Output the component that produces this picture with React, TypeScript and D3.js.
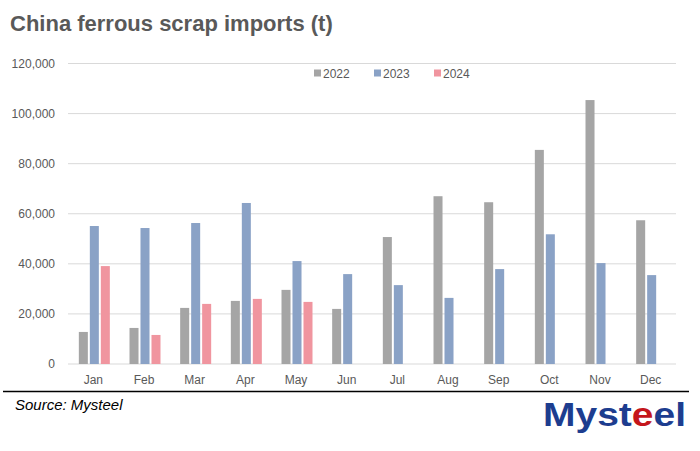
import { useEffect, useRef } from "react";
import * as d3 from "d3";

const months = ["Jan", "Feb", "Mar", "Apr", "May", "Jun", "Jul", "Aug", "Sep", "Oct", "Nov", "Dec"];
const seriesNames = ["2022", "2023", "2024"];
const imports2022 = [12800, 14400, 22400, 25200, 29600, 22000, 50700, 67000, 64600, 85500, 105400, 57400];
const imports2023 = [55100, 54300, 56300, 64300, 41100, 35900, 31500, 26400, 37900, 51800, 40300, 35500];
const imports2024 = [39100, 11600, 24000, 26000, 24800, null, null, null, null, null, null, null];
const yTicks = [0, 20000, 40000, 60000, 80000, 100000, 120000];
const colors = ["#a5a5a5", "#8aa2c6", "#f0959f"];

export default function App() {
  const svgRef = useRef<SVGSVGElement>(null);

  useEffect(() => {
    if (!svgRef.current) return;
    const svg = d3.select(svgRef.current);
    svg.selectAll("*").remove();

    const W = 700;
    const H = 451;
    const margin = { top: 63.5, right: 24, bottom: 87, left: 68 };
    const width = W - margin.left - margin.right;
    const height = H - margin.top - margin.bottom;
    const font = "'Liberation Sans', Arial, sans-serif";
    const textColor = "#595959";

    svg.attr("width", W).attr("height", H).style("font-family", font);
    svg.append("rect").attr("width", W).attr("height", H).attr("fill", "#fff");

    // Title
    svg
      .append("text")
      .attr("x", 10)
      .attr("y", 31)
      .attr("fill", textColor)
      .style("font-size", "22px")
      .style("font-weight", "bold")
      .text("China ferrous scrap imports (t)");

    const g = svg.append("g").attr("transform", `translate(${margin.left},${margin.top})`);

    const x = d3.scaleBand<string>().domain(months).range([0, width]).padding(0);
    const inner = d3.scaleBand<string>().domain(seriesNames).range([0, 31]).paddingInner(0.18);
    const y = d3.scaleLinear().domain([0, 120000]).range([height, 0]);

    // Gridlines
    g.selectAll("line.grid")
      .data(yTicks)
      .enter()
      .append("line")
      .attr("class", "grid")
      .attr("x1", 0)
      .attr("x2", width)
      .attr("y1", (d) => y(d))
      .attr("y2", (d) => y(d))
      .attr("stroke", "#d9d9d9")
      .attr("stroke-width", 1);

    // Y axis labels
    const yAxis = g
      .append("g")
      .call(d3.axisLeft(y).tickValues(yTicks).tickSize(0).tickPadding(13).tickFormat(d3.format(",")));
    yAxis.select(".domain").remove();
    yAxis.selectAll("text").attr("fill", textColor).style("font-size", "12px").style("font-family", font);

    // X axis labels
    const xAxis = g
      .append("g")
      .attr("transform", `translate(0,${height})`)
      .call(d3.axisBottom(x).tickSize(0).tickPadding(11));
    xAxis.select(".domain").remove();
    xAxis.selectAll("text").attr("fill", textColor).style("font-size", "12px").style("font-family", font);

    // Bars
    const all = [imports2022, imports2023, imports2024];
    all.forEach((vals, si) => {
      g.selectAll(`rect.s${si}`)
        .data(vals.map((v, i) => ({ m: months[i], v })).filter((d) => d.v != null))
        .enter()
        .append("rect")
        .attr("class", `s${si}`)
        .attr("x", (d) => (x(d.m) as number) + x.bandwidth() / 2 - 14.5 + (inner(seriesNames[si]) as number))
        .attr("y", (d) => y(d.v as number))
        .attr("width", inner.bandwidth())
        .attr("height", (d) => height - y(d.v as number))
        .attr("fill", colors[si]);
    });

    // Legend
    const legendX = [314, 374, 434];
    seriesNames.forEach((name, i) => {
      svg
        .append("rect")
        .attr("x", legendX[i])
        .attr("y", 69.5)
        .attr("width", 7)
        .attr("height", 7)
        .attr("fill", colors[i]);
      svg
        .append("text")
        .attr("x", legendX[i] + 9)
        .attr("y", 78)
        .attr("fill", textColor)
        .style("font-size", "12px")
        .text(name);
    });

    // Separator
    svg
      .append("line")
      .attr("x1", 3)
      .attr("x2", 689)
      .attr("y1", 391.5)
      .attr("y2", 391.5)
      .attr("stroke", "#000")
      .attr("stroke-width", 1.3);

    svg
      .append("text")
      .attr("x", 15)
      .attr("y", 410)
      .attr("fill", "#000")
      .style("font-size", "15px")
      .style("font-style", "italic")
      .text("Source: Mysteel");

    // Logo
    const logo = svg
      .append("text")
      .attr("x", 543)
      .attr("y", 426)
      .attr("textLength", 143)
      .attr("lengthAdjust", "spacingAndGlyphs")
      .style("font-size", "33px")
      .style("font-weight", "bold")
      .attr("fill", "#1d3d8f");
    logo.append("tspan").text("Myst");
    logo.append("tspan").attr("fill", "#c4161c").text("e");
    logo.append("tspan").text("el");
  }, []);

  return (
    <div style={{ position: "absolute", left: 0, top: 0 }}>
      <svg ref={svgRef} style={{ display: "block" }}></svg>
    </div>
  );
}
